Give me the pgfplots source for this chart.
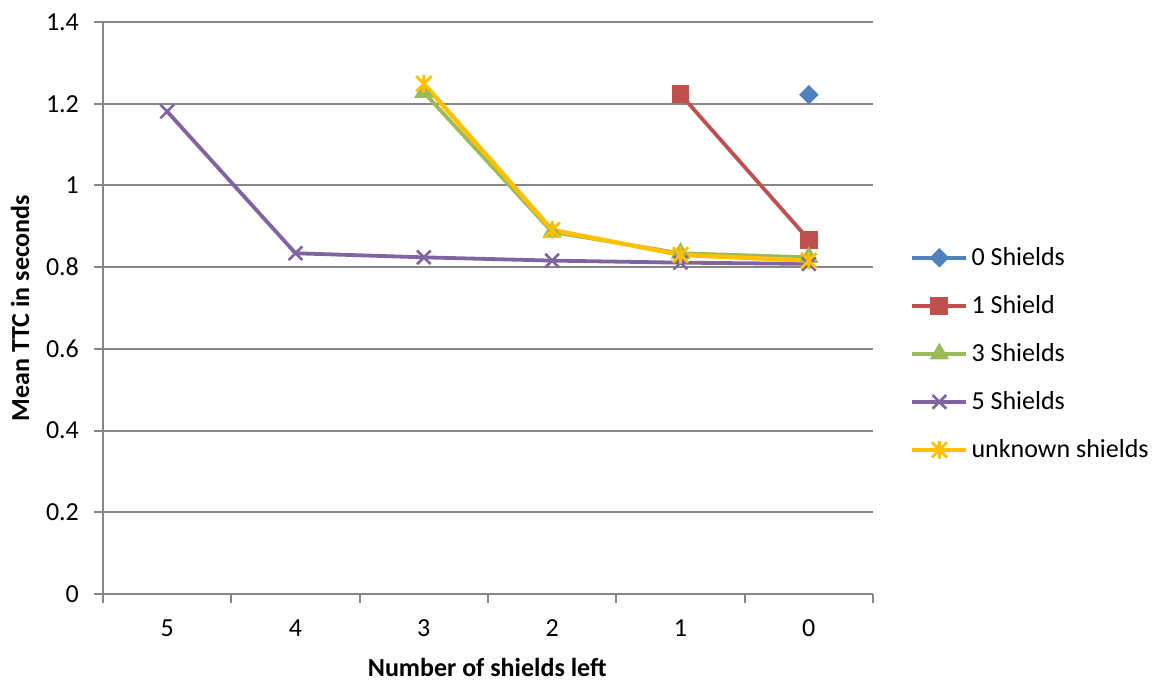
\documentclass[border=0pt]{standalone}
\usepackage{pgfplots}
\pgfplotsset{compat=1.18}
\usepackage{fontspec}
\setmainfont{Carlito}

\definecolor{cBlue}{HTML}{4F81BD}
\definecolor{cRed}{HTML}{C0504D}
\definecolor{cGreen}{HTML}{9BBB59}
\definecolor{cPurple}{HTML}{8064A2}
\definecolor{cYellow}{HTML}{FFC000}
\definecolor{cGrid}{HTML}{868686}

% star marker: a cross with a vertical bar through it
\pgfdeclareplotmark{xstar}{%
  \pgfpathmoveto{\pgfqpoint{-\pgfplotmarksize}{-\pgfplotmarksize}}%
  \pgfpathlineto{\pgfqpoint{\pgfplotmarksize}{\pgfplotmarksize}}%
  \pgfpathmoveto{\pgfqpoint{-\pgfplotmarksize}{\pgfplotmarksize}}%
  \pgfpathlineto{\pgfqpoint{\pgfplotmarksize}{-\pgfplotmarksize}}%
  \pgfpathmoveto{\pgfqpoint{0pt}{-1.15\pgfplotmarksize}}%
  \pgfpathlineto{\pgfqpoint{0pt}{1.15\pgfplotmarksize}}%
  \pgfusepathqstroke}

\newcommand{\chartfont}{\fontsize{13}{15.5}\selectfont}

\begin{document}
\begin{tikzpicture}
\useasboundingbox (-51.5pt,-43.5pt) rectangle (528.5pt,297pt);
\begin{axis}[
  at={(0pt,0pt)}, anchor=south west,
  scale only axis, width=385pt, height=286pt,
  x dir=reverse,
  xmin=-0.5, xmax=5.5, ymin=0, ymax=1.4,
  axis x line*=bottom, axis y line*=left,
  axis line style={cGrid, line width=1.05pt},
  xtick={0,1,2,3,4,5},
  minor xtick={-0.5,0.5,1.5,2.5,3.5,4.5,5.5},
  xtick style={draw=none},
  minor x tick style={draw=cGrid, line width=1.05pt},
  ytick={0,0.2,0.4,0.6,0.8,1,1.2,1.4},
  y tick style={draw=cGrid, line width=1.05pt},
  tick align=outside,
  major tick length=4.5pt, minor tick length=4.5pt,
  ymajorgrids,
  major grid style={cGrid, line width=1.05pt},
  /pgf/number format/assume math mode=true,
  /pgf/number format/fixed,
  ticklabel style={font=\chartfont, text=black},
  xticklabel style={yshift=-5pt},
  yticklabel style={xshift=-4pt},
  xlabel={\textbf{Number of shields left}},
  ylabel={\textbf{Mean TTC in seconds}},
  label style={font=\chartfont},
  xlabel style={at={(axis description cs:0.499,-0.1276)}, anchor=center},
  ylabel style={at={(axis description cs:-0.1078,0.5)}, anchor=center},
  legend style={at={(axis description cs:1.04,0.42)}, anchor=west,
    draw=none, fill=none, font=\chartfont, row sep=10.5pt,
    nodes={inner sep=1.5pt}},
  legend cell align=left,
  legend image code/.code={%
    \draw[mark repeat=2, mark phase=2]
      plot coordinates {(0pt,0pt) (13.5pt,0pt) (27pt,0pt)};},
  every axis plot/.append style={line width=1.9pt},
  clip=false,
]
\addplot[cBlue, mark=square*, mark size=2.5pt, mark options={rotate=45}]
  coordinates {(0,1.222)};
\addlegendentry{0 Shields}

\addplot[cRed, mark=square*, mark size=3.5pt]
  coordinates {(1,1.223) (0,0.867)};
\addlegendentry{1 Shield}

\addplot[cGreen, mark=triangle*, mark size=3.7pt]
  coordinates {(3,1.228) (2,0.886) (1,0.834) (0,0.824)};
\addlegendentry{3 Shields}

\addplot[cPurple, mark=x, mark size=4.8pt, mark options={line width=1.3pt}]
  coordinates {(5,1.181) (4,0.834) (3,0.824) (2,0.816) (1,0.811) (0,0.808)};
\addlegendentry{5 Shields}

\addplot[cYellow, line width=2.2pt, mark=xstar, mark size=3.8pt, mark options={line width=1.4pt}]
  coordinates {(3,1.249) (2,0.891) (1,0.830) (0,0.816)};
\addlegendentry{unknown shields}
\end{axis}
\end{tikzpicture}
\end{document}
